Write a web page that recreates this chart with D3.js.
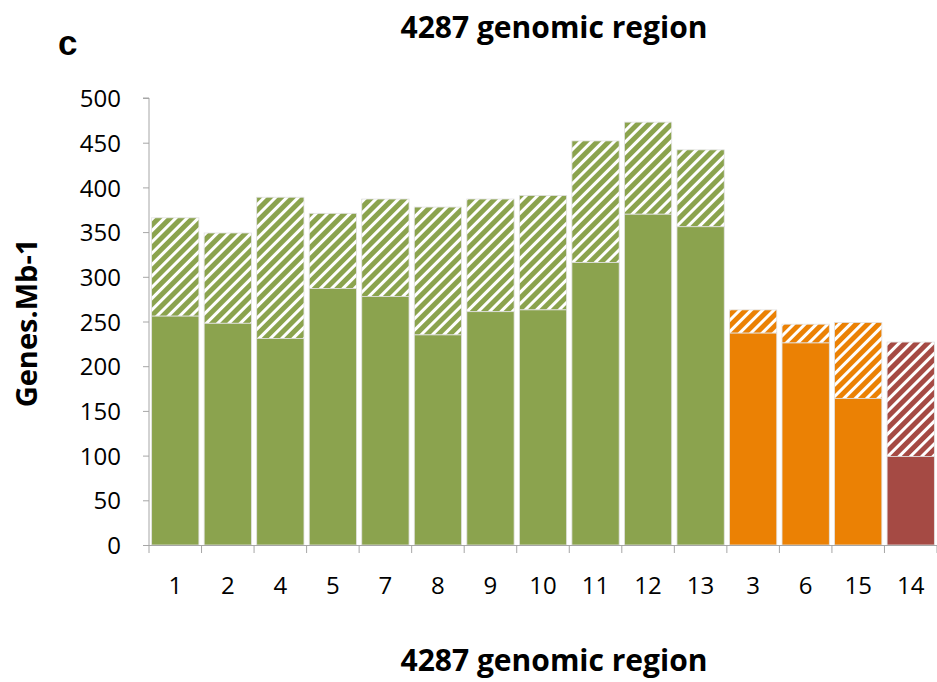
<!DOCTYPE html>
<html>
<head>
<meta charset="utf-8">
<script src="https://cdn.jsdelivr.net/npm/d3@7"></script>
<style>
  html, body { margin: 0; padding: 0; background: #fff; }
  svg { display: block; }
  text { font-family: "Open Sans", "Liberation Sans", sans-serif; fill: #000; }
</style>
</head>
<body>
<svg id="chart" width="937" height="682"></svg>
<script>
// Genomic regions, in drawing order
const regions = ["1", "2", "4", "5", "7", "8", "9", "10", "11", "12", "13", "3", "6", "15", "14"];
// Group of each region (sets the colour)
const groups = ["g", "g", "g", "g", "g", "g", "g", "g", "g", "g", "g", "o", "o", "o", "r"];
// Lower (solid) value per region, genes per Mb
const solidValues = [256, 248, 231, 287, 278, 235, 261, 263, 316, 370, 356, 237, 226, 164, 99];
// Total value (top of the hatched part), genes per Mb
const totalValues = [366, 349, 389, 371, 387, 378, 387, 391, 452, 473, 442, 263, 247, 249, 227];
const yTicks = [0, 50, 100, 150, 200, 250, 300, 350, 400, 450, 500];

const colors = { g: "#8ba34e", o: "#eb8104", r: "#a54a44" };

const svg = d3.select("#chart");
const plotLeft = 149, plotRight = 937, plotTop = 98, plotBottom = 545;

const x = d3.scaleBand().domain(regions).range([plotLeft, plotRight]).paddingInner(0.1).paddingOuter(0.05);
const xEdges = d3.scaleLinear().domain([0, regions.length]).range([plotLeft, plotRight]);
const y = d3.scaleLinear().domain([0, 500]).range([plotBottom, plotTop]);

// Diagonal hatch patterns, one per colour
const defs = svg.append("defs");
Object.entries(colors).forEach(([k, c]) => {
  const p = defs.append("pattern")
    .attr("id", "hatch-" + k)
    .attr("patternUnits", "userSpaceOnUse")
    .attr("width", 8).attr("height", 8)
    .attr("patternTransform", "rotate(45)");
  p.append("rect").attr("width", 8).attr("height", 8).attr("fill", "#fff");
  p.append("rect").attr("x", 0).attr("width", 5).attr("height", 8).attr("fill", c);
});

const data = regions.map((r, i) => ({ r, g: groups[i], solid: solidValues[i], total: totalValues[i] }));

// Hatched upper parts
svg.append("g").selectAll("rect").data(data).join("rect")
  .attr("x", d => x(d.r)).attr("width", x.bandwidth())
  .attr("y", d => y(d.total)).attr("height", d => y(d.solid) - y(d.total))
  .attr("fill", d => "url(#hatch-" + d.g + ")")
  .attr("stroke", "#e2e2e2").attr("stroke-width", 0.8);

// Solid lower parts
svg.append("g").selectAll("rect").data(data).join("rect")
  .attr("x", d => x(d.r)).attr("width", x.bandwidth())
  .attr("y", d => y(d.solid)).attr("height", d => y(0) - y(d.solid))
  .attr("fill", d => colors[d.g])
  .attr("stroke", "#e2e2e2").attr("stroke-width", 0.8);

// Y axis
const yAxis = svg.append("g").attr("transform", `translate(${plotLeft},0)`)
  .call(d3.axisLeft(y).tickValues(yTicks).tickSize(6).tickPadding(22));
yAxis.select(".domain").attr("stroke", "#a6a6a6").attr("d", `M-6,${plotTop}H0V${plotBottom}`);
yAxis.selectAll(".tick line").attr("stroke", "#a6a6a6");
yAxis.selectAll(".tick text").style("font-size", "24px").attr("dy", "0.36em");

// X axis baseline with ticks at category boundaries
const xg = svg.append("g");
xg.append("line").attr("x1", plotLeft).attr("x2", plotRight).attr("y1", plotBottom + 0.5).attr("y2", plotBottom + 0.5)
  .attr("stroke", "#a6a6a6");
xg.selectAll("line.tk").data(d3.range(regions.length + 1)).join("line").attr("class", "tk")
  .attr("x1", d => xEdges(d)).attr("x2", d => xEdges(d))
  .attr("y1", plotBottom).attr("y2", plotBottom + 8).attr("stroke", "#a6a6a6");
xg.selectAll("text").data(regions).join("text")
  .attr("x", d => x(d) + x.bandwidth() / 2).attr("y", 594)
  .attr("text-anchor", "middle").style("font-size", "24px").text(d => d);

// Titles
svg.append("text").attr("x", 554).attr("y", 38).attr("text-anchor", "middle")
  .style("font-size", "30px").style("font-weight", "bold").text("4287 genomic region");
svg.append("text").attr("x", 554).attr("y", 671).attr("text-anchor", "middle")
  .style("font-size", "30px").style("font-weight", "bold").text("4287 genomic region");
svg.append("text").attr("x", 58).attr("y", 55)
  .style("font-family", "'Liberation Sans', Arial, sans-serif")
  .style("font-size", "35px").style("font-weight", "bold").text("c");
svg.append("text").attr("transform", "translate(37,323) rotate(-90)").attr("text-anchor", "middle")
  .style("font-size", "29px").style("font-weight", "bold").text("Genes.Mb-1");
</script>
</body>
</html>
